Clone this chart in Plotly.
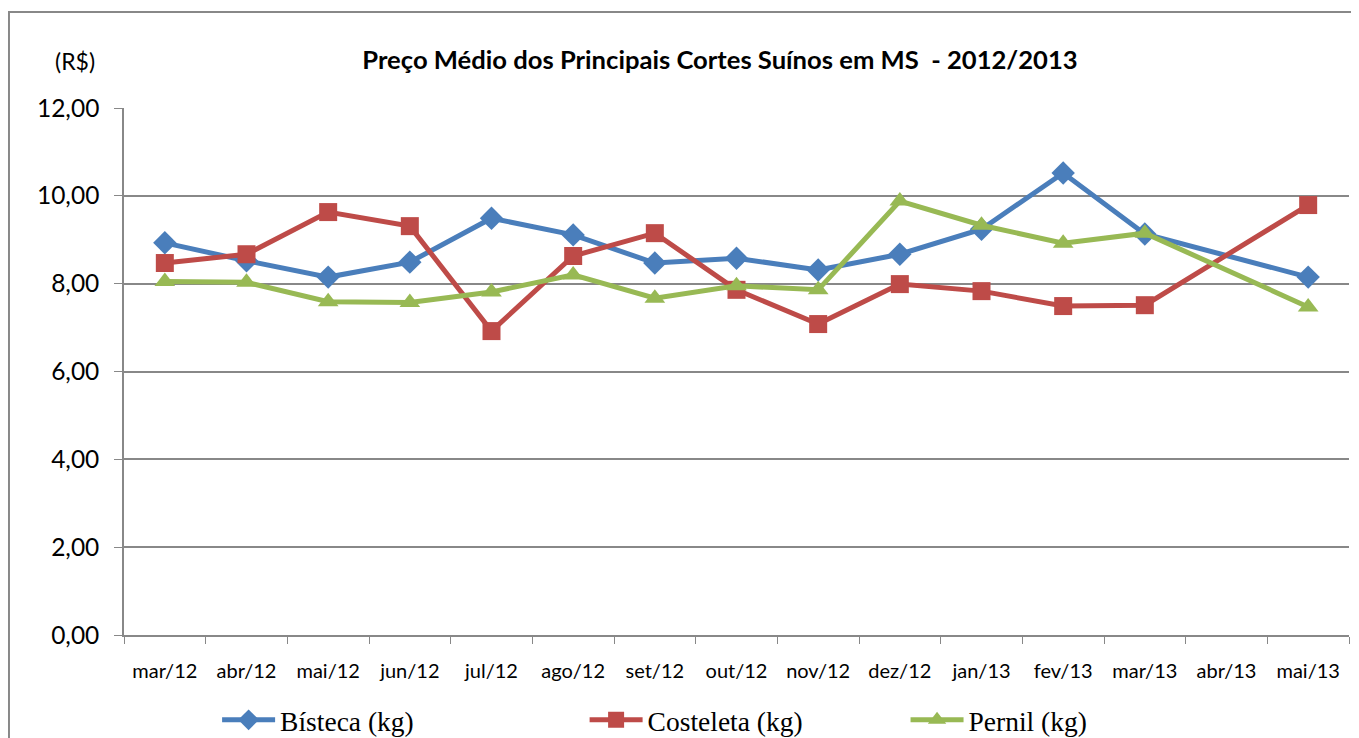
import plotly.graph_objects as go

months = ["mar/12", "abr/12", "mai/12", "jun/12", "jul/12", "ago/12", "set/12", "out/12",
          "nov/12", "dez/12", "jan/13", "fev/13", "mar/13", "abr/13", "mai/13"]
bisteca = [8.93, 8.52, 8.15, 8.49, 9.49, 9.11, 8.47, 8.58, 8.31, 8.67, 9.24, 10.52, 9.13, None, 8.15]
costeleta = [8.47, 8.67, 9.63, 9.31, 6.92, 8.63, 9.15, 7.86, 7.08, 7.99, 7.83, 7.49, 7.51, None, 9.79]
pernil = [8.05, 8.03, 7.59, 7.57, 7.81, 8.20, 7.67, 7.95, 7.86, 9.88, 9.33, 8.92, 9.15, None, 7.47]

series = [
    ("Bísteca (kg)", bisteca, "#4A7EBB", "diamond", 18, "legend", 0.076),
    ("Costeleta (kg)", costeleta, "#BE4B48", "square", 18, "legend2", 0.376),
    ("Pernil (kg)", pernil, "#98B954", "triangle-up", 18, "legend3", 0.638),
]

fig = go.Figure()
legends = {}
for name, vals, color, sym, size, lg, lx in series:
    fig.add_trace(go.Scatter(
        x=months, y=vals, name=name, mode="lines+markers", connectgaps=True,
        line=dict(color=color, width=5),
        marker=dict(symbol=sym, size=size, color=color),
        legend=lg,
    ))
    legends[lg] = dict(orientation="h", x=lx, xanchor="left", y=0.0247, yref="container",
                       yanchor="middle", itemwidth=53,
                       font=dict(family="Liberation Serif, serif", size=27.5, color="black"),
                       bgcolor="rgba(0,0,0,0)")

# page body has an 8px offset; figure sized to fit the viewport
fig.update_layout(
    width=1351, height=730,
    paper_bgcolor="white", plot_bgcolor="white",
    separators=",.",
    margin=dict(l=116, r=10, t=100, b=103, autoexpand=False),
    title=dict(text="<b>Preço Médio dos Principais Cortes Suínos em MS  - 2012/2013</b>",
               x=0.527, xanchor="center", y=0.929, yanchor="middle",
               font=dict(family="Lato, Open Sans, sans-serif", size=25.6, color="black")),
    showlegend=True,
    xaxis=dict(type="category", showgrid=False, showline=True, linecolor="#888888", linewidth=1.5,
               ticks="outside", tickson="boundaries", ticklen=7, tickcolor="#888888",
               ticklabelstandoff=17,
               tickfont=dict(family="Lato, Open Sans, sans-serif", size=20, color="black"),
               range=[-0.5, 14.5]),
    yaxis=dict(range=[0, 12], dtick=2, tickformat=".2f", showgrid=True, gridcolor="#888888",
               gridwidth=1.5, showline=True, linecolor="#888888", linewidth=1.5,
               ticks="outside", ticklen=8, tickcolor="#888888", zeroline=False,
               ticklabelstandoff=10,
               tickfont=dict(family="Lato, Open Sans, sans-serif", size=24.5, color="black")),
    **legends,
)

fig.add_annotation(text="(R$)", xref="paper", yref="paper", x=-0.04, y=1.09,
                   xanchor="center", yanchor="middle", showarrow=False,
                   font=dict(family="Lato, Open Sans, sans-serif", size=23, color="black"))

fig.add_shape(type="rect", xref="paper", yref="paper",
              x0=-0.0939, x1=1.05, y0=-0.3, y1=1.182,
              line=dict(color="#888888", width=2))

fig.write_html("out.html")
